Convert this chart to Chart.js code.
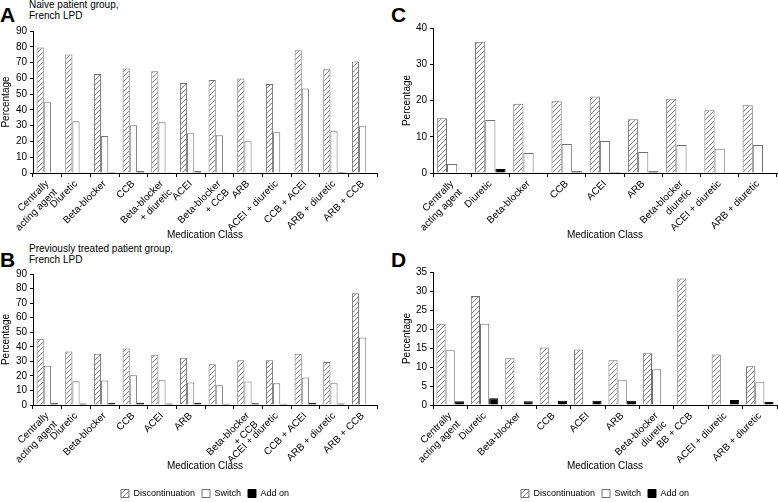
<!DOCTYPE html>
<html><head><meta charset="utf-8">
<script src="https://cdn.jsdelivr.net/npm/chart.js@4/dist/chart.umd.min.js"></script>
<style>
html,body{margin:0;padding:0;background:#fff;width:778px;height:502px;overflow:hidden;font-family:"Liberation Sans",Arial,sans-serif;}
canvas{position:absolute;}
.letter{position:absolute;font-weight:bold;font-size:21px;line-height:21px;color:#000;}
.sub{position:absolute;font-size:10px;line-height:11px;color:#000;}
</style></head><body>
<div class="letter" style="left:0;top:4px">A</div>
<div class="sub" style="left:29px;top:-1px">Naive patient group,<br>French LPD</div>
<div class="letter" style="left:0;top:249px">B</div>
<div class="sub" style="left:29px;top:243px">Previously treated patient group,<br>French LPD</div>
<div class="letter" style="left:391px;top:4px">C</div>
<div class="letter" style="left:391px;top:249px">D</div>
<canvas id="cA" width="380" height="249" style="left:0;top:0"></canvas>
<canvas id="cC" width="378" height="249" style="left:400px;top:0"></canvas>
<canvas id="cB" width="380" height="258" style="left:0;top:250px"></canvas>
<canvas id="cD" width="378" height="258" style="left:400px;top:250px"></canvas>
<script>
const seriesNames = ["Discontinuation", "Switch", "Add on"];

const catsA = [["Centrally","acting agent"], "Diuretic", "Beta-blocker", "CCB", ["Beta-blocker","+ diuretic"], "ACEI", ["Beta-blocker","+ CCB"], "ARB", "ACEI + diuretic", "CCB + ACEI", "ARB + diuretic", "ARB + CCB"];
const discA   = [79.5, 75.1, 62.7, 66.2, 64.5, 57.0, 58.9, 59.9, 56.4, 77.8, 65.8, 70.6];
const switchA = [44.8, 32.8, 23.5, 30.3, 32.2, 25.2, 24.0, 20.2, 25.9, 53.6, 26.5, 29.6];
const addA    = [0, 0.4, 0.7, 1.1, 0.4, 1.1, 0.4, 0, 0, 0, 0.7, 0];
const ticksA  = {max: 90, step: 10};

const catsB = [["Centrally","acting agent"], "Diuretic", "Beta-blocker", "CCB", "ACEI", "ARB", "", ["Beta-blocker","+ CCB"], "ACEI + diuretic", "CCB + ACEI", "ARB + diuretic", "ARB + CCB"];
const discB   = [45.5, 36.8, 35.2, 38.9, 34.5, 32.5, 28.0, 30.7, 30.7, 35.2, 29.5, 76.8];
const switchB = [27.0, 16.4, 16.8, 20.5, 17.0, 15.5, 13.6, 16.1, 15.0, 18.9, 15.0, 46.4];
const addB    = [1.2, 1.0, 1.5, 1.5, 1.0, 1.5, 0.8, 1.2, 0.8, 1.5, 1.0, 0];
const ticksB  = {max: 90, step: 10};

const catsC = [["Centrally","acting agent"], "Diuretic", "Beta-blocker", "CCB", "ACEI", "ARB", ["Beta-blocker","diuretic"], "ACEI + diuretic", "ARB + diuretic"];
const discC   = [15.1, 36.2, 19.1, 19.8, 21.1, 14.8, 20.5, 17.3, 18.7];
const switchC = [2.5, 14.6, 5.5, 8.0, 8.8, 5.8, 7.7, 6.7, 7.7];
const addC    = [0, 1.1, 0.2, 0.5, 0.3, 0.5, 0, 0.2, 0];
const ticksC  = {max: 40, step: 10};

const catsD = [["Centrally","acting agent"], "Diuretic", "Beta-blocker", "CCB", "ACEI", "ARB", ["Beta-blocker","diuretic"], "BB + CCB", "ACEI + diuretic", "ARB + diuretic"];
const discD   = [21.4, 28.7, 12.3, 15.1, 14.6, 11.8, 13.6, 33.3, 13.3, 10.2];
const switchD = [14.4, 21.4, 0, 0, 0, 6.5, 9.4, 0, 0, 6.0];
const addD    = [1.0, 1.8, 1.0, 1.1, 1.1, 1.1, 0, 0, 1.3, 0.8];
const ticksD  = {max: 35, step: 5};

const FONT = '"Liberation Sans", Arial, sans-serif';

function hatch(){
  const c = document.createElement('canvas'); c.width = 5; c.height = 5;
  const g = c.getContext('2d');
  g.fillStyle = '#fff'; g.fillRect(0,0,5,5);
  g.strokeStyle = '#808080'; g.lineWidth = 1;
  g.beginPath();
  g.moveTo(0,5); g.lineTo(5,0);
  g.moveTo(-1,1); g.lineTo(1,-1);
  g.moveTo(4,6); g.lineTo(6,4);
  g.stroke();
  return g.createPattern(c, 'repeat');
}

function makeChart(id, cats, disc, sw, add, tk, o){
  const pat = hatch();
  new Chart(document.getElementById(id), {
    type: 'bar',
    data: {
      labels: cats,
      datasets: [
        {label: seriesNames[0], data: disc, backgroundColor: pat, borderColor: '#707070', borderWidth: 1},
        {label: seriesNames[1], data: sw, backgroundColor: '#fff', borderColor: '#707070', borderWidth: 1},
        {label: seriesNames[2], data: add, backgroundColor: '#000', borderColor: '#000', borderWidth: 1}
      ]
    },
    options: {
      responsive: false, animation: false, devicePixelRatio: 1,
      layout: {padding: {top: o.top, right: o.right, bottom: 0, left: 0}},
      datasets: {bar: {categoryPercentage: o.cat, barPercentage: 1}},
      plugins: {
        tooltip: {enabled: false},
        legend: {
          display: o.legend, position: 'bottom', fullSize: false,
          labels: {boxWidth: 8, boxHeight: 8, padding: 7, color: '#000', font: {family: FONT, size: 9}}
        }
      },
      scales: {
        x: {
          offset: true,
          grid: {display: true, offset: true, drawOnChartArea: false, drawTicks: true, tickLength: 4, color: '#000'},
          border: {display: true, color: '#000', width: 1},
          ticks: {autoSkip: false, minRotation: 45, maxRotation: 45, padding: 1, color: '#000', font: {family: FONT, size: 10}},
          title: {display: true, text: 'Medication Class', color: '#000', font: {family: FONT, size: 10}, padding: {top: 0, bottom: o.tpb}},
          afterFit: s => { s.height = o.xh; }
        },
        y: {
          min: 0, max: tk.max,
          grid: {display: true, drawOnChartArea: false, drawTicks: true, tickLength: 3, color: '#000'},
          border: {display: true, color: '#000', width: 1},
          ticks: {autoSkip: false, stepSize: tk.step, padding: 3, color: '#000', font: {family: FONT, size: 10}},
          title: {display: true, text: 'Percentage', color: '#000', font: {family: FONT, size: 10}, padding: {top: o.ypt, bottom: 0}},
          afterFit: s => { s.width = 33; }
        }
      }
    }
  });
}

makeChart('cA', catsA, discA, switchA, addA, ticksA, {top: 31, right: 3, cat: 0.75, legend: false, xh: 76, tpb: 8, ypt: 0});
makeChart('cC', catsC, discC, switchC, addC, ticksC, {top: 28, right: 1, cat: 0.8, legend: false, xh: 76, tpb: 8, ypt: 1});
makeChart('cB', catsB, discB, switchB, addB, ticksB, {top: 24, right: 3, cat: 0.75, legend: true, xh: 77, tpb: 10, ypt: 0});
makeChart('cD', catsD, discD, switchD, addD, ticksD, {top: 22, right: 1, cat: 0.8, legend: true, xh: 77, tpb: 10, ypt: 1});
</script>
</body></html>
